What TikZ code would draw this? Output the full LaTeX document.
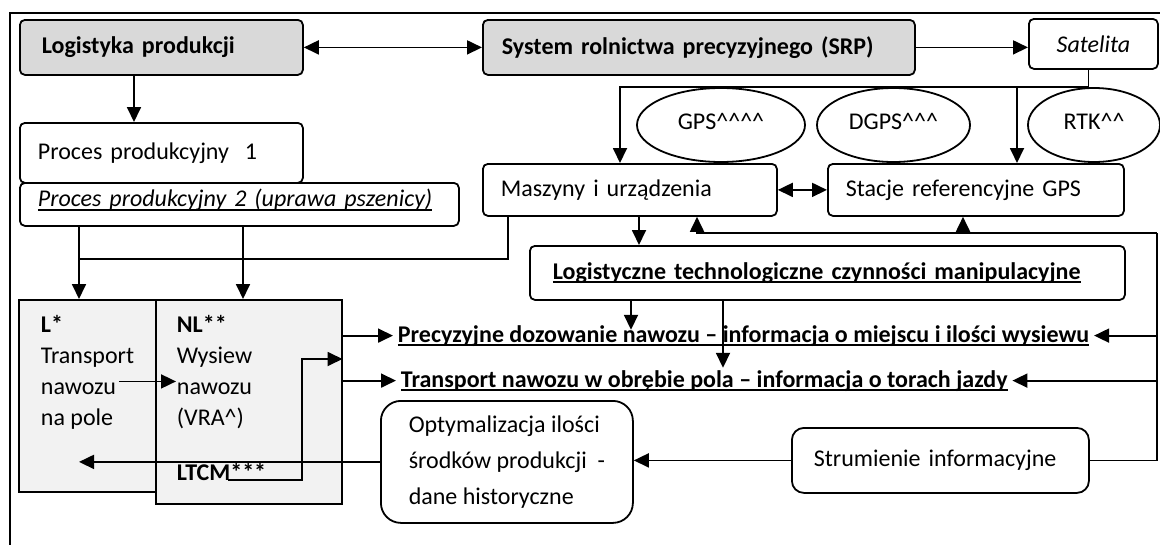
\documentclass[tikz,border=0pt]{standalone}
\usepackage{fontspec}
\setmainfont{Carlito}
\usepackage{tikz}
\usetikzlibrary{shapes.geometric, arrows.meta}
\definecolor{srp_grey}{RGB}{217, 217, 217}
\definecolor{cell_grey}{RGB}{242, 242, 242}
\newcommand{\undl}[1]{\setbox0=\hbox{#1}\rlap{\rule[-4pt]{\wd0}{1.8pt}}\box0}
\newcommand{\crt}{\textasciicircum}

\begin{document}
\begin{tikzpicture}[x=1pt, y=-1pt, line width=1.8pt,
    >={Triangle[length=15pt, width=14pt]},
    font=\fontsize{24}{31}\selectfont,
    box/.style={draw, rounded corners=5pt, anchor=north west, align=left,
        inner xsep=18pt, inner ysep=0pt},
    ell/.style={draw, ellipse, inner sep=0pt, minimum height=74pt, text depth=8pt},
    cell/.style={draw, fill=cell_grey, line width=1.5pt, anchor=north west,
        inner sep=0pt},
    txt/.style={anchor=base west, inner sep=0pt}]
    \useasboundingbox (0,0) rectangle (1160,544);
    % Frame
    \begin{scope}
        \clip (0,0) rectangle (1160,544);
        \draw (10,13) rectangle (1180,564);
    \end{scope}

    % Top row
    \node[box, fill=srp_grey, inner xsep=22pt, text width=239pt, minimum height=55pt]
        (logist) at (19,19) {\textbf{Logistyka produkcji}};
    \node[box, fill=srp_grey, inner xsep=19pt, text width=394pt, minimum height=55pt]
        (srp) at (482,19) {\textbf{System rolnictwa precyzyjnego (SRP)}};
    \node[box, align=center, text width=93pt, minimum height=50pt]
        (sat) at (1028,18) {\textit{Satelita}};

    % Positioning systems
    \node[ell, minimum width=168pt] (gps) at (721,125) {GPS\crt\crt\crt\crt};
    \node[ell, minimum width=153pt] (dgps) at (893.5,125) {DGPS\crt\crt\crt};
    \node[ell, minimum width=132pt] (rtk) at (1094,125) {RTK\crt\crt};

    % Processes and machines
    \node[box, text width=247pt, minimum height=60pt]
        (proc1) at (19,122) {Proces produkcyjny\ \ 1};
    \node[box, text width=403pt]
        (proc2) at (19,182) {\rule[-19pt]{0pt}{43pt}\undl{\itshape Proces produkcyjny 2 (uprawa pszenicy)}};
    \node[box, text width=258pt, minimum height=52pt]
        (masz) at (482,163) {Maszyny i urządzenia};
    \node[box, text width=260pt, minimum height=52pt]
        (stac) at (827,163) {Stacje referencyjne GPS};
    \node[box, inner xsep=23pt, text width=549pt, minimum height=54pt]
        (logt) at (529,245) {\undl{\bfseries Logistyczne technologiczne czynności manipulacyjne}};

    % L and NL cells
    \node[cell, minimum width=137pt, minimum height=192pt] (lbox) at (18,299) {};
    \node[cell, minimum width=186pt, minimum height=204pt] (nlbox) at (155,299) {};
    \node[txt] (lhead) at (40,332) {\textbf{L*}};
    \node[txt] (ltra) at (40,363) {Transport};
    \node[txt] (lnaw) at (40,394) {nawozu};
    \node[txt] (lpol) at (40,425) {na pole};
    \node[txt] (nlhead) at (176,332) {\textbf{NL**}};
    \node[txt] (nlwys) at (176,363) {Wysiew};
    \node[txt] (nlnaw) at (176,394) {nawozu};
    \node[txt] (nlvra) at (176,425) {(VRA\crt)};
    \node[txt] (ltcm) at (176,480) {\textbf{LTCM***}};

    % Outcomes
    \node[anchor=base west, inner xsep=4pt] (prec) at (393,342)
        {\undl{\bfseries Precyzyjne dozowanie nawozu -- informacja o miejscu i ilości wysiewu}};
    \node[anchor=base west, inner xsep=4pt] (trans) at (396,387)
        {\undl{\bfseries Transport nawozu w obrębie pola -- informacja o torach jazdy}};

    % Bottom row
    \node[box, rounded corners=20pt, inner xsep=0pt, minimum width=252pt, minimum height=122pt,
        font=\fontsize{24}{36}\selectfont]
        (opt) at (380,400) {Optymalizacja ilości\\środków produkcji\ \ -\\dane historyczne};
    \node[box, rounded corners=12pt, inner xsep=22pt, text width=253pt, minimum height=65pt]
        (strum) at (791,427) {Strumienie informacyjne};

    % Top connectors
    \draw[<->] (logist) -- (srp);
    \draw[->] (srp.east) -- (srp.east -| sat.west);
    \draw[->] ([xshift=115pt]logist.south west) -- ([xshift=115pt]logist.south west |- proc1.north);
    \draw[->] ([xshift=-5pt]sat.south) -- ([xshift=-5pt]sat.south |- gps.north) -| ([xshift=138pt]masz.north west);
    \draw[->] ([xshift=190pt]stac.north west |- gps.north) -- ([xshift=190pt]stac.north west);
    \draw[<->] (masz) -- (stac);

    % Feeding the cells
    \coordinate (jn) at (79,259);
    \draw[->] (jn |- proc2.south) -- (jn |- lbox.north);
    \draw[->] ([xshift=224pt]proc2.south west) -- ([xshift=224pt]proc2.south west |- nlbox.north);
    \draw ([xshift=26pt]masz.south west) |- (jn);
    \draw[->] ([xshift=157pt]masz.south west) -- ([xshift=157pt]masz.south west |- logt.north);
    \draw[->] ([xshift=102pt]logt.south west) -- ++(0,29);
    \draw[->] ([xshift=194pt]logt.south west) -- ++(0,67);

    % Information bus on the right
    \coordinate (rb) at (1157,233);
    \draw (strum.east) -| (rb);
    \draw[->] (rb) -| ([xshift=215pt]masz.south west);
    \draw[->] ([xshift=136pt]stac.south west |- rb) -- ([xshift=136pt]stac.south west);
    \draw[->] (rb |- prec.east) -- (prec.east);
    \draw[->] (rb |- trans.east) -- (trans.east);
    \draw[->] (nlbox.east |- prec.west) -- (prec.west);
    \draw[->] (nlbox.east |- trans.west) -- (trans.west);
    \draw[->] (strum.west) -- (strum.west -| opt.east);
    \draw[->] (opt.west) -- (opt.west -| jn);

    % Inside the cells
    \draw[->] ([xshift=2pt]lnaw.north east) -- (nlnaw.north west);
    \draw[->] ([xshift=52pt]ltcm.base west) -- ++(74,0) |- ([yshift=4pt]nlbox.east |- nlwys.base);
\end{tikzpicture}
\end{document}
